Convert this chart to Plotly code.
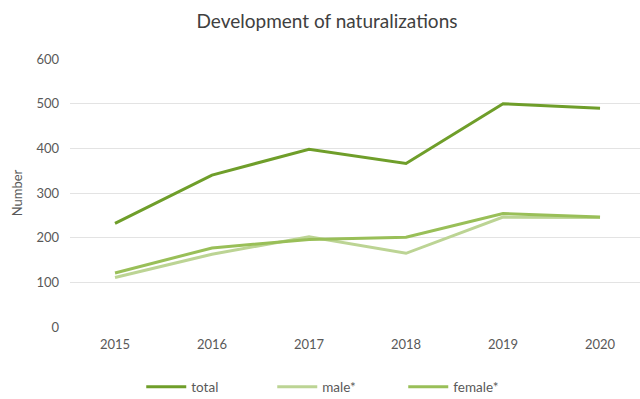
import plotly.graph_objects as go

# Naturalizations per year
years = ["2015", "2016", "2017", "2018", "2019", "2020"]
total = [232, 340, 398, 366, 500, 490]
male = [111, 163, 202, 165, 246, 245]
female = [121, 177, 196, 201, 254, 246]

y_ticks = [0, 100, 200, 300, 400, 500, 600]

font_family = "Lato, 'Open Sans', sans-serif"
text_color = "#595959"

fig = go.Figure()
fig.add_trace(go.Scatter(x=years, y=total, name="total", mode="lines",
                         line=dict(color="#6f9e2a", width=3)))
fig.add_trace(go.Scatter(x=years, y=male, name="male*", mode="lines",
                         line=dict(color="#bcd494", width=3)))
fig.add_trace(go.Scatter(x=years, y=female, name="female*", mode="lines",
                         line=dict(color="#99bf58", width=3)))

fig.update_layout(
    width=640, height=399,
    margin=dict(l=70, r=0, t=59, b=72, autoexpand=False),
    paper_bgcolor="white", plot_bgcolor="white",
    font=dict(family=font_family, color=text_color, size=13),
    title=dict(text="Development of naturalizations", x=327 / 640, xanchor="center",
               xref="container", y=1 - 21 / 399, yanchor="middle",
               font=dict(size=19, color="#404040", family=font_family)),
    showlegend=True,
    legend=dict(orientation="h", x=0.125, xanchor="left", y=-0.224, yanchor="middle",
                entrywidth=76, entrywidthmode="pixels", itemwidth=40,
                font=dict(size=13.5, color=text_color), traceorder="normal"),
)

fig.update_xaxes(
    type="category", range=[-0.464, 5.412],
    showgrid=False, showline=False, zeroline=False,
    ticks="", ticklabelstandoff=8,
    tickfont=dict(size=13, color=text_color),
)
fig.update_yaxes(
    range=[0, 600], tickvals=y_ticks,
    showgrid=True, gridcolor="#e3e3e3", gridwidth=1,
    zeroline=False, showline=False, ticks="",
    ticklabelstandoff=10,
    tickfont=dict(size=13, color=text_color),
    title=dict(text="Number", font=dict(size=13, color=text_color), standoff=10),
)

fig.write_html("out.html")
